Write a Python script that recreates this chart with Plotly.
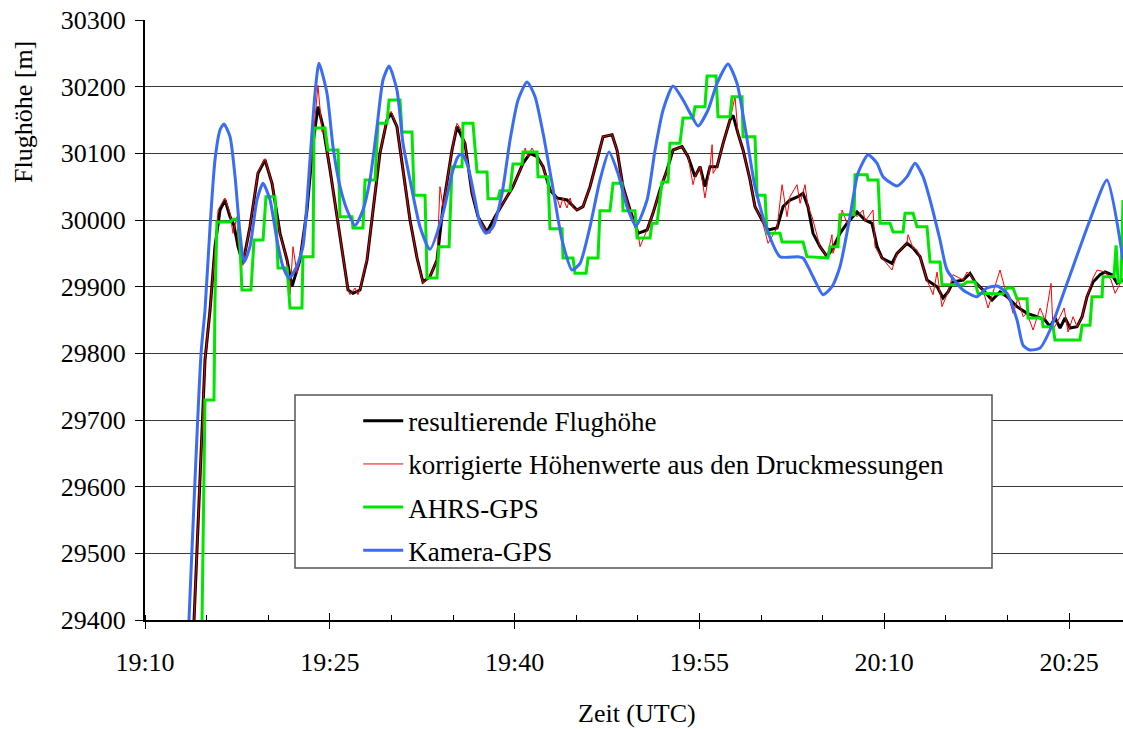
import pandas as pd
import plotly.graph_objects as go

# Flight altitude during the balloon ascent/float phase, 19:10 - 20:29 UTC.
# Times are minutes after 19:10 UTC, altitudes in metres.

# resultierende Flughöhe
res_min = [3.98, 4.46, 4.87, 5.28, 5.68, 6.09, 6.49, 6.90, 7.22, 7.55, 7.95, 8.52, 9.17, 9.74,
           10.31, 10.96, 11.53, 11.93, 12.58, 13.15, 13.64, 14.04, 14.45, 15.02, 15.58, 16.07,
           16.48, 16.88, 17.45, 18.02, 18.51, 19.07, 19.64, 19.97, 20.45, 20.94, 21.51, 22.08,
           22.56, 23.13, 23.70, 24.19, 24.92, 25.32, 25.97, 26.54, 27.03, 27.76, 28.41, 29.22,
           29.87, 30.68, 31.25, 31.82, 32.31, 32.87, 33.44, 34.25, 35.06, 35.55, 36.12, 36.69,
           37.18, 37.91, 38.31, 38.80, 39.37, 40.02, 40.75, 41.23, 41.80, 42.37, 42.86, 43.59,
           44.08, 44.64, 45.05, 45.45, 45.86, 46.43, 46.92, 47.48, 47.73, 48.13, 48.54, 49.11,
           49.51, 50.08, 50.57, 51.30, 51.79, 52.35, 53.00, 53.41, 53.81, 54.22, 54.79, 55.36,
           55.84, 56.41, 56.98, 57.79, 58.44, 59.01, 59.42, 59.82, 60.63, 61.04, 61.85, 62.34,
           62.91, 63.47, 64.29, 64.77, 65.18, 65.58, 66.40, 66.96, 67.37, 68.02, 68.75, 69.40,
           69.97, 70.78, 71.59, 72.40, 73.05, 73.46, 73.86, 74.27, 74.68, 75.08, 75.65, 76.06,
           76.46, 76.95, 77.52, 77.92, 78.49, 78.90, 79.38]
res_alt = [29400, 29610, 29790, 29865, 29960, 30015, 30030, 30005, 29992, 29960, 29935, 29990,
           30070, 30090, 30055, 29980, 29940, 29900, 29940, 30015, 30115, 30170, 30140, 30075,
           30005, 29940, 29895, 29890, 29895, 29940, 30015, 30100, 30150, 30160, 30140, 30075,
           30000, 29943, 29907, 29915, 29940, 30020, 30105, 30140, 30115, 30040, 30005, 29982,
           30005, 30030, 30050, 30085, 30100, 30095, 30080, 30045, 30033, 30030, 30015, 30020,
           30050, 30090, 30125, 30128, 30105, 30050, 30015, 29980, 29985, 30010, 30045, 30075,
           30105, 30110, 30095, 30065, 30080, 30050, 30080, 30080, 30115, 30150, 30157, 30130,
           30105, 30060, 30020, 30000, 29985, 29988, 30020, 30030, 30035, 30040, 30020, 29980,
           29960, 29945, 29958, 29980, 29995, 30012, 30000, 29995, 29960, 29943, 29935, 29950,
           29965, 29958, 29945, 29910, 29900, 29883, 29892, 29907, 29910, 29920, 29907, 29895,
           29880, 29892, 29885, 29870, 29860, 29855, 29850, 29840, 29853, 29838, 29853, 29838,
           29840, 29855, 29885, 29907, 29918, 29922, 29918, 29905, 29910]

# korrigierte Höhenwerte aus den Druckmessungen
prs_min = [3.98, 4.46, 4.87, 5.28, 5.68, 5.93, 6.49, 6.90, 7.14, 7.47, 7.55, 7.95, 8.52, 9.17,
           9.74, 10.31, 10.96, 11.53, 11.77, 12.01, 12.34, 12.58, 13.15, 13.64, 14.04, 14.37,
           14.45, 15.02, 15.58, 16.07, 16.48, 16.64, 17.05, 17.29, 17.45, 18.02, 18.51, 19.07,
           19.64, 19.97, 20.45, 20.94, 21.51, 22.08, 22.56, 23.13, 23.70, 23.94, 24.19, 24.92,
           25.32, 25.57, 25.97, 26.54, 27.03, 27.76, 28.00, 28.41, 29.22, 29.87, 30.68, 30.85,
           31.09, 31.41, 31.82, 32.31, 32.87, 33.44, 33.69, 33.93, 34.25, 34.50, 34.74, 35.06,
           35.55, 36.12, 36.69, 37.18, 37.91, 38.31, 38.80, 39.37, 40.02, 40.18, 40.75, 41.23,
           41.80, 42.37, 42.86, 43.59, 44.08, 44.48, 44.64, 45.05, 45.45, 45.86, 46.03, 46.11,
           46.43, 46.92, 47.48, 47.89, 48.13, 48.54, 49.11, 49.51, 50.08, 50.57, 51.30, 51.71,
           52.11, 52.35, 52.92, 53.17, 53.57, 53.81, 54.14, 54.79, 55.36, 55.76, 55.84, 56.41,
           56.58, 56.98, 57.47, 57.79, 58.28, 58.44, 59.09, 59.25, 59.82, 60.63, 61.04, 61.85,
           61.93, 62.34, 62.66, 62.91, 63.47, 63.96, 64.29, 64.69, 65.18, 65.58, 66.40, 66.72,
           66.96, 67.37, 68.02, 68.43, 69.40, 69.97, 70.21, 70.46, 70.86, 71.27, 71.59, 72.08,
           72.65, 73.05, 73.54, 73.70, 74.27, 74.60, 74.92, 75.33, 75.65, 76.06, 76.46, 76.95,
           77.28, 77.92, 78.41, 78.74, 79.38]
prs_alt = [29400, 29610, 29790, 29865, 29965, 30015, 30033, 30010, 29980, 30005, 29965, 29932,
           29990, 30072, 30092, 30055, 29978, 29940, 29888, 29960, 29920, 29942, 30018, 30115,
           30202, 30132, 30140, 30075, 30003, 29942, 29895, 29888, 29898, 29888, 29896, 29942,
           30015, 30100, 30152, 30163, 30140, 30075, 30000, 29943, 29905, 29915, 29940, 30050,
           30020, 30105, 30145, 30138, 30115, 30040, 30005, 29982, 29980, 30005, 30030, 30050,
           30085, 30108, 30095, 30108, 30095, 30080, 30045, 30033, 30018, 30033, 30018, 30033,
           30018, 30015, 30020, 30050, 30090, 30125, 30128, 30105, 30050, 30015, 29980, 29960,
           29985, 30010, 30045, 30075, 30105, 30110, 30095, 30053, 30065, 30080, 30033, 30080,
           30113, 30070, 30080, 30115, 30150, 30185, 30130, 30105, 30060, 30020, 30000, 29965,
           29988, 30053, 30005, 30035, 30053, 30025, 30053, 30020, 30005, 29960, 29945, 29978,
           29950, 29980, 30015, 29995, 30015, 30005, 30015, 29998, 30015, 29960, 29943, 29925,
           29950, 29965, 29978, 29958, 29955, 29945, 29910, 29888, 29922, 29870, 29892, 29918,
           29910, 29922, 29918, 29907, 29895, 29868, 29925, 29885, 29877, 29860, 29883, 29855,
           29860, 29835, 29868, 29850, 29905, 29835, 29855, 29868, 29832, 29855, 29840, 29855,
           29885, 29913, 29925, 29922, 29910, 29890, 29913]

# AHRS-GPS (held values)
ahrs_min = [4.63, 4.87, 5.60, 5.68, 5.84, 6.90, 7.14, 7.55, 7.71, 7.87, 8.60, 8.85, 9.58, 9.82,
            10.55, 10.80, 11.53, 11.77, 12.74, 12.82, 13.64, 13.72, 14.61, 14.85, 15.67, 15.83,
            16.80, 16.88, 17.69, 17.86, 18.67, 18.91, 19.64, 19.81, 20.70, 20.86, 21.67, 21.84,
            22.73, 22.89, 23.70, 23.86, 24.68, 24.92, 25.73, 25.81, 26.62, 26.95, 27.76, 27.84,
            28.65, 28.82, 29.63, 29.87, 30.60, 30.68, 31.82, 31.90, 32.71, 32.87, 33.85, 33.93,
            34.74, 34.90, 35.80, 35.96, 36.77, 36.93, 37.74, 37.99, 38.72, 38.80, 39.77, 39.94,
            40.99, 41.15, 41.56, 41.96, 42.45, 42.61, 43.42, 43.67, 44.48, 44.64, 45.45, 45.62,
            46.35, 46.51, 47.48, 47.65, 48.46, 48.54, 49.51, 49.68, 50.33, 50.49, 51.54, 51.71,
            53.41, 53.73, 55.44, 55.60, 56.25, 56.41, 57.55, 57.63, 58.61, 58.69, 59.50, 59.66,
            60.47, 60.72, 61.53, 61.69, 62.34, 62.66, 63.47, 63.72, 64.53, 64.69, 66.40, 66.72,
            67.37, 67.61, 69.64, 69.97, 70.46, 70.78, 71.59, 71.67, 72.81, 72.89, 73.70, 73.86,
            75.89, 76.06, 76.70, 76.87, 77.68, 77.76, 78.65, 78.82, 78.98, 79.22, 79.38]
ahrs_alt = [29400, 29730, 29730, 29880, 29997, 29997, 30001, 30001, 29962, 29895, 29895, 29970,
            29970, 30035, 30035, 29928, 29928, 29868, 29868, 29945, 29945, 30138, 30138, 30105,
            30105, 30005, 30005, 29988, 29988, 30060, 30060, 30145, 30145, 30180, 30180, 30132,
            30132, 30037, 30037, 29913, 29913, 29960, 29960, 30080, 30080, 30145, 30145, 30072,
            30072, 30032, 30032, 30044, 30044, 30084, 30084, 30102, 30102, 30065, 30065, 29987,
            29987, 29943, 29943, 29920, 29920, 29943, 29943, 30014, 30014, 30055, 30055, 30014,
            30014, 29973, 29973, 29995, 29995, 30057, 30057, 30115, 30115, 30153, 30153, 30170,
            30170, 30216, 30216, 30155, 30155, 30185, 30185, 30125, 30125, 30037, 30037, 29980,
            29980, 29967, 29967, 29945, 29943, 29960, 29960, 30008, 30008, 30068, 30068, 30060,
            30060, 29995, 29995, 29982, 29982, 30010, 30010, 29990, 29990, 29937, 29937, 29903,
            29903, 29907, 29907, 29890, 29889, 29898, 29898, 29882, 29882, 29853, 29853, 29840,
            29840, 29820, 29820, 29842, 29842, 29885, 29885, 29915, 29915, 29962, 29907, 29907,
            30030]

# Kamera-GPS
cam_min = [3.57, 4.55, 4.87, 5.28, 5.68, 6.09, 6.41, 6.90, 7.31, 7.71, 8.04, 8.52, 9.09, 9.58,
           10.15, 10.71, 11.20, 11.69, 12.26, 12.82, 13.39, 13.80, 14.12, 14.77, 15.26, 15.83,
           16.40, 17.05, 17.69, 18.26, 18.83, 19.32, 19.81, 20.45, 20.94, 21.51, 22.32, 23.13,
           24.19, 24.92, 25.41, 25.73, 26.22, 26.79, 27.19, 27.68, 28.25, 28.98, 29.63, 30.28,
           31.01, 31.66, 32.31, 33.04, 33.85, 34.66, 35.31, 36.12, 36.93, 37.66, 38.39, 39.12,
           39.85, 40.75, 41.40, 42.05, 42.86, 43.67, 44.40, 44.89, 45.70, 46.43, 47.32, 48.05,
           48.70, 49.51, 50.49, 51.54, 53.00, 53.41, 54.22, 55.03, 55.76, 56.41, 57.22, 57.87,
           58.69, 59.42, 59.90, 61.04, 61.85, 62.50, 63.15, 63.72, 64.53, 65.10, 66.40, 67.53,
           68.34, 69.16, 69.97, 70.78, 71.27, 71.83, 72.65, 73.46, 74.84, 76.70, 78.08, 79.38]
cam_alt = [29400, 29800, 29865, 29990, 30090, 30135, 30144, 30125, 30065, 29980, 29937, 29960,
           30030, 30055, 30030, 29970, 29930, 29913, 29928, 29960, 30090, 30190, 30235, 30190,
           30110, 30050, 30015, 29992, 30015, 30060, 30140, 30210, 30231, 30195, 30115, 30060,
           29990, 29956, 30010, 30070, 30095, 30099, 30080, 30030, 29995, 29980, 29990, 30040,
           30120, 30180, 30207, 30185, 30130, 30055, 29970, 29925, 29935, 29990, 30060, 30102,
           30070, 30020, 29991, 30030, 30105, 30165, 30201, 30180, 30155, 30141, 30165, 30205,
           30234, 30205, 30140, 30050, 29985, 29945, 29945, 29943, 29915, 29888, 29900, 29930,
           30005, 30070, 30098, 30085, 30065, 30051, 30065, 30085, 30065, 30030, 29970, 29925,
           29895, 29885, 29898, 29901, 29890, 29850, 29812, 29805, 29808, 29835, 29905, 30000,
           30060, 29940]

START = pd.Timestamp("2000-01-01 19:10:00")
END_MIN = 79.38


def to_time(minutes):
    return START + pd.to_timedelta(minutes, unit="m")


SERIF = "Liberation Serif, Times New Roman, serif"

fig = go.Figure()
fig.add_trace(go.Scatter(x=to_time(res_min), y=res_alt, mode="lines",
                         name="resultierende Flughöhe", legendgroup="a",
                         line=dict(color="#000000", width=3)))
fig.add_trace(go.Scatter(x=to_time(prs_min), y=prs_alt, mode="lines",
                         name="korrigierte Höhenwerte aus den Druckmessungen", legendgroup="b",
                         line=dict(color="#ff0000", width=1)))
fig.add_trace(go.Scatter(x=to_time(ahrs_min), y=ahrs_alt, mode="lines",
                         name="AHRS-GPS", legendgroup="c",
                         line=dict(color="#00e600", width=3)))
fig.add_trace(go.Scatter(x=to_time(cam_min), y=cam_alt, mode="lines",
                         name="Kamera-GPS", legendgroup="d",
                         line=dict(color="#3a6cf4", width=3, shape="spline", smoothing=0.6)))

x_range = [START, to_time(END_MIN)]

fig.update_layout(
    width=1123, height=729,
    margin=dict(l=145, r=0, t=20, b=109),
    paper_bgcolor="white", plot_bgcolor="white",
    font=dict(family=SERIF, size=26, color="black"),
    showlegend=True,
    legend=dict(x=0.218, y=0.372, xanchor="left", yanchor="top",
                bgcolor="rgba(0,0,0,0)", borderwidth=0,
                font=dict(family=SERIF, size=27, color="black"),
                tracegroupgap=5, itemwidth=40),
    xaxis=dict(type="date", range=x_range, tick0=START, dtick=900000,
               tickformat="%H:%M", ticks="outside", ticklen=7, tickwidth=1,
               tickcolor="black", showline=True, linecolor="black", linewidth=2,
               showgrid=False, zeroline=False, ticklabelstandoff=11,
               tickfont=dict(family=SERIF, size=26),
               minor=dict(dtick=300000, tick0=START, ticks="inside", ticklen=5,
                          tickcolor="black", showgrid=False)),
    xaxis2=dict(type="date", overlaying="x", matches="x", anchor="y", side="bottom",
                tick0=START, dtick=900000, ticks="inside", ticklen=7, tickcolor="black",
                showticklabels=False, showgrid=False, showline=False, zeroline=False),
    yaxis=dict(range=[29400, 30300], dtick=100, ticks="outside", ticklen=8,
               tickcolor="black", showline=True, linecolor="black", linewidth=2,
               showgrid=True, gridcolor="#3a3a3a", gridwidth=1, zeroline=False,
               ticklabelstandoff=4, tickformat="d",
               tickfont=dict(family=SERIF, size=26)),
)

fig.add_trace(go.Scatter(x=x_range, y=[None, None], xaxis="x2", showlegend=False,
                         hoverinfo="skip", mode="lines"))

# legend frame
fig.add_shape(type="rect", xref="paper", yref="paper",
              x0=(295 - 145) / 978, x1=(992 - 145) / 978,
              y0=(620 - 568) / 600, y1=(620 - 395) / 600,
              line=dict(color="#555555", width=1.5), fillcolor="white", layer="above")

fig.add_annotation(text="Flughöhe [m]", xref="paper", yref="paper",
                   x=(23 - 145) / 978, y=(620 - 112) / 600, textangle=-90,
                   showarrow=False, xanchor="center", yanchor="middle",
                   font=dict(family=SERIF, size=26))
fig.add_annotation(text="Zeit (UTC)", xref="paper", yref="paper",
                   x=(637 - 145) / 978, y=(620 - 713) / 600,
                   showarrow=False, xanchor="center", yanchor="middle",
                   font=dict(family=SERIF, size=26))

fig.write_html("out.html")
